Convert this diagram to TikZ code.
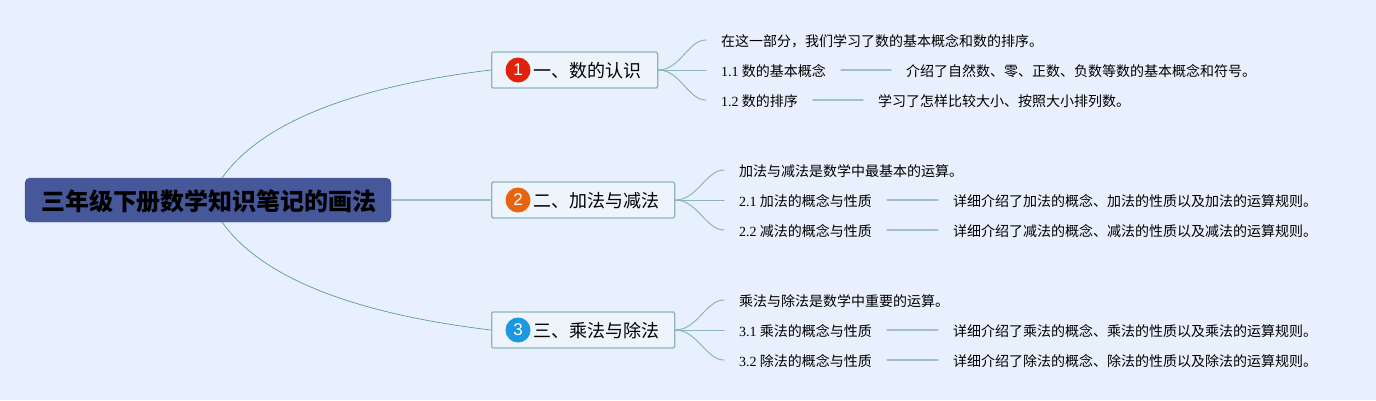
\documentclass[tikz,border=0pt]{standalone}
\usepackage{fontspec}
\setmainfont{Liberation Serif}
\newfontfamily\cjk{Noto Sans CJK SC}
\newfontfamily\badgefont{Liberation Sans}
\definecolor{bgcol}{HTML}{E8F0FD}
\definecolor{rootcol}{HTML}{46579A}
\definecolor{boxcol}{HTML}{8DB6BB}
\definecolor{boxfill}{HTML}{EDF4FC}
\definecolor{thincol}{HTML}{5F9A9E}
\definecolor{linkcol}{HTML}{9FC0C6}
\definecolor{redcol}{HTML}{E0220C}
\definecolor{orangecol}{HTML}{E8650F}
\definecolor{bluecol}{HTML}{1B98E0}
\tikzset{
  rootbox/.style={draw=rootcol,fill=rootcol,rounded corners=5pt,minimum width=366pt,minimum height=44pt,inner sep=0pt},
  topicbox/.style={draw=boxcol,fill=boxfill,line width=1.3pt,rounded corners=1.5pt,anchor=west,minimum height=36pt,inner sep=0pt},
  topictext/.style={anchor=west,inner sep=0pt,font=\cjk\fontsize{18}{18}\selectfont},
  leaf/.style={anchor=west,inner xsep=15pt,inner ysep=2pt,font=\cjk\fontsize{14}{14}\selectfont},
  badge/.style={circle,minimum size=25pt,inner sep=0pt,text=white,font=\badgefont\fontsize{17}{17}\selectfont},
  thin/.style={thincol,line width=.7pt},
  branch/.style={boxcol,line width=1pt},
  link/.style={linkcol,line width=1.2pt}
}
\newcommand{\ltn}[1]{{\rmfamily #1}}
\begin{document}
\begin{tikzpicture}[x=1pt,y=-1pt,line cap=round]
  \fill[bgcol] (0,0) rectangle (1376,400);
  \useasboundingbox (0,0) rectangle (1376,400);
  % root
  \node[rootbox] (root) at (208,200) {};
  \node[inner sep=0pt,font=\cjk\fontsize{24}{24}\selectfont\bfseries] (roottxt) at (209,201.5) {三年级下册数学知识笔记的画法};
  \coordinate (roottop) at (222,178);
  \coordinate (rootbot) at (222,222);
  % topics
  \node[topicbox,minimum width=166pt] (t1) at (491,70) {};
  \node[topicbox,minimum width=183pt] (t2) at (491,200) {};
  \node[topicbox,minimum width=183pt] (t3) at (491,330) {};
  \node[topictext] (t1txt) at (533,71) {一、数的认识};
  \node[topictext] (t2txt) at (533,201) {二、加法与减法};
  \node[topictext] (t3txt) at (533,331) {三、乘法与除法};
  \node[badge,fill=redcol] (b1) at (518,70) {1};
  \node[badge,fill=orangecol] (b2) at (518,200) {2};
  \node[badge,fill=bluecol] (b3) at (518,330) {3};
  \draw[thin] (roottop) .. controls (270,110) and (390,82) .. (t1.west);
  \draw[link] (root.east) -- (t2.west);
  \draw[thin] (rootbot) .. controls (270,290) and (390,318) .. (t3.west);
  % leaves of topic 1
  \node[leaf] (a0) at (706,41) {在这一部分，我们学习了数的基本概念和数的排序。};
  \node[leaf] (a1) at (706,71) {\ltn{1.1} 数的基本概念};
  \node[leaf] (a2) at (706,101) {\ltn{1.2} 数的排序};
  \node[leaf] (a1d) at (891,71) {介绍了自然数、零、正数、负数等数的基本概念和符号。};
  \node[leaf] (a2d) at (863,101) {学习了怎样比较大小、按照大小排列数。};
  % leaves of topic 2
  \node[leaf] (c0) at (724,171) {加法与减法是数学中最基本的运算。};
  \node[leaf] (c1) at (724,201) {\ltn{2.1} 加法的概念与性质};
  \node[leaf] (c2) at (724,231) {\ltn{2.2} 减法的概念与性质};
  \node[leaf] (c1d) at (938,201) {详细介绍了加法的概念、加法的性质以及加法的运算规则。};
  \node[leaf] (c2d) at (938,231) {详细介绍了减法的概念、减法的性质以及减法的运算规则。};
  % leaves of topic 3
  \node[leaf] (e0) at (724,301) {乘法与除法是数学中重要的运算。};
  \node[leaf] (e1) at (724,331) {\ltn{3.1} 乘法的概念与性质};
  \node[leaf] (e2) at (724,361) {\ltn{3.2} 除法的概念与性质};
  \node[leaf] (e1d) at (938,331) {详细介绍了乘法的概念、乘法的性质以及乘法的运算规则。};
  \node[leaf] (e2d) at (938,361) {详细介绍了除法的概念、除法的性质以及除法的运算规则。};
  % branches
  \foreach \t/\a/\b/\c in {t1/a0/a1/a2,t2/c0/c1/c2,t3/e0/e1/e2}{
    \draw[branch] (\t.east) -- ([yshift=1pt]\b.west);
    \draw[branch] (\t.east) .. controls +(22,0) and +(-18,0) .. ([yshift=1pt]\a.west);
    \draw[branch] (\t.east) .. controls +(22,0) and +(-18,0) .. ([yshift=1pt]\c.west);
  }
  \foreach \s/\d in {a1/a1d,a2/a2d,c1/c1d,c2/c2d,e1/e1d,e2/e2d}
    \draw[link] ([yshift=1pt]\s.east) -- ([yshift=1pt]\d.west);
\end{tikzpicture}
\end{document}
